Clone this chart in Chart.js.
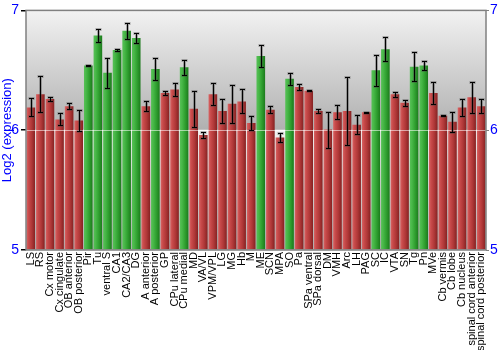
<!DOCTYPE html>
<html><head><meta charset="utf-8">
<script src="https://cdn.jsdelivr.net/npm/chart.js@4/dist/chart.umd.min.js"></script>
<style>html,body{margin:0;padding:0;background:#fff}#wrap{width:500px;height:350px}</style>
</head><body><div id="wrap"><canvas id="c" width="500" height="350"></canvas></div>
<script>
const categories = ["LS","RS","Cx motor","Cx cingulate","OB anterior","OB posterior","Pir","Tu","ventral S","CA1","CA2/CA3","DG","A anterior","A posterior","GP","CPu lateral","CPu medial","MD","VA/VL","VPM/VPL","LG","MG","Hb","M","ME","SCN","MPA","SO","Pa","SPa ventral","SPa dorsal","DM","VMH","Arc","LH","PAG","SC","IC","VTA","SN","Tg","Pn","MVe","Cb vermis","Cb lobe","Cb nucleus","spinal cord anterior","spinal cord posterior"];
const values = [6.19,6.30,6.26,6.09,6.20,6.08,6.54,6.79,6.48,6.67,6.83,6.77,6.20,6.51,6.31,6.34,6.525,6.18,5.96,6.30,6.16,6.22,6.24,6.06,6.62,6.17,5.94,6.43,6.36,6.33,6.16,6.005,6.15,6.16,6.045,6.15,6.50,6.675,6.30,6.23,6.53,6.54,6.31,6.12,6.07,6.19,6.275,6.20];
const errors = [0.075,0.15,0.015,0.05,0.025,0.09,0.005,0.055,0.125,0.005,0.065,0.045,0.04,0.095,0.02,0.055,0.065,0.15,0.025,0.09,0.10,0.16,0.10,0.06,0.09,0.03,0.04,0.05,0.025,0.005,0.02,0.15,0.06,0.28,0.08,0.005,0.13,0.10,0.02,0.025,0.12,0.04,0.09,0.005,0.085,0.07,0.13,0.06];
const highlighted = ["Pir","Tu","ventral S","CA1","CA2/CA3","DG","A posterior","CPu medial","ME","SO","SC","IC","Tg","Pn"];
const yTicks = [5,6,7];
const yTitle = "Log2 (expression)";

const FONT = "'Liberation Sans', Arial, sans-serif";
function barGradient(ctx){
  const green = highlighted.includes(categories[ctx.dataIndex]);
  const flat = green ? '#38a838' : '#b83a3a';
  const chart = ctx.chart; const xs = chart.scales && chart.scales.x;
  if(!xs || ctx.type !== 'data') return flat;
  const cx = xs.getPixelForValue(ctx.dataIndex);
  const w = xs.width / categories.length * 0.9;
  if(!Number.isFinite(cx) || !Number.isFinite(w) || w <= 0) return flat;
  const g = chart.ctx.createLinearGradient(cx - w/2, 0, cx + w/2, 0);
  if(green){
    g.addColorStop(0,'#58c058'); g.addColorStop(0.25,'#48b848'); g.addColorStop(0.6,'#30a030'); g.addColorStop(1,'#1c7a1c');
  } else {
    g.addColorStop(0,'#d86464'); g.addColorStop(0.25,'#c84a4a'); g.addColorStop(0.6,'#b03838'); g.addColorStop(1,'#852222');
  }
  return g;
}

const decor = {
  id:'decor',
  beforeDatasetsDraw(chart){
    const {ctx, chartArea:a, scales:{y}} = chart;
    ctx.save();
    for(let i=0;i<yTicks.length-1;i++){
      const lo = yTicks[i], hi = yTicks[i+1];
      const yt = y.getPixelForValue(hi), yb = y.getPixelForValue(lo);
      const g = ctx.createLinearGradient(0, yt, 0, yb);
      g.addColorStop(0,'#f2f2f2'); g.addColorStop(1,'#b0b0b0');
      ctx.fillStyle = g; ctx.fillRect(a.left, yt, a.right-a.left, yb-yt);
    }
    const y6 = Math.round(y.getPixelForValue(6))+0.5;
    ctx.strokeStyle='rgba(255,255,255,0.9)'; ctx.lineWidth=1.5;
    ctx.beginPath(); ctx.moveTo(a.left,y6); ctx.lineTo(a.right,y6); ctx.stroke();
    ctx.restore();
  },
  afterDatasetsDraw(chart){
    const {ctx, chartArea:a, scales:{x,y}} = chart;
    ctx.save();
    const y6 = Math.round(y.getPixelForValue(6))+0.5;
    ctx.strokeStyle='rgba(255,255,255,0.55)'; ctx.lineWidth=1;
    ctx.beginPath(); ctx.moveTo(a.left,y6); ctx.lineTo(a.right,y6); ctx.stroke();
    values.forEach((v,i)=>{
      const cx = Math.round(x.getPixelForValue(i));
      const yt = Math.round(y.getPixelForValue(v+errors[i]))+0.5;
      const yb = Math.round(y.getPixelForValue(v-errors[i]))+0.5;
      ctx.strokeStyle='rgba(70,70,70,0.4)'; ctx.lineWidth=3;
      ctx.beginPath(); ctx.moveTo(cx+0.5,yt); ctx.lineTo(cx+0.5,yb);
      ctx.moveTo(cx-2.5,yt); ctx.lineTo(cx+3.5,yt); ctx.moveTo(cx-2.5,yb); ctx.lineTo(cx+3.5,yb); ctx.stroke();
      ctx.strokeStyle='#000'; ctx.lineWidth=1;
      ctx.beginPath(); ctx.moveTo(cx+0.5,yt); ctx.lineTo(cx+0.5,yb);
      ctx.moveTo(cx-2,yt); ctx.lineTo(cx+3,yt);
      ctx.moveTo(cx-2,yb); ctx.lineTo(cx+3,yb); ctx.stroke();
    });
    ctx.strokeStyle='#808080'; ctx.lineWidth=1.5;
    ctx.strokeRect(a.left, a.top, a.right-a.left, a.bottom-a.top);
    ctx.restore();
  }
};

new Chart(document.getElementById('c'), {
  type:'bar',
  data:{ labels: categories, datasets:[{ data: values, backgroundColor: barGradient, borderWidth:0, categoryPercentage:1, barPercentage:0.9, base:5 }]},
  plugins:[decor],
  options:{
    responsive:false, animation:false,
    layout:{padding:{top:9,right:0,left:0,bottom:0}},
    plugins:{legend:{display:false}, tooltip:{enabled:false}},
    scales:{
      x:{ grid:{display:false, drawTicks:false}, border:{display:false},
          ticks:{ autoSkip:false, maxRotation:90, minRotation:90, color:'#000', padding:2, font:{family:FONT,size:11}},
          afterFit(s){ s.height = 100; } },
      y:{ min:5, max:7, position:'left', border:{display:false},
          grid:{ drawOnChartArea:false, tickColor:'#000', tickLength:5, lineWidth:1.5 },
          ticks:{ stepSize:1, color:'#0000ff', padding:2, font:{family:FONT,size:14}},
          title:{ display:true, text:yTitle, color:'#0000ff', padding:0, font:{family:FONT,size:13}},
          afterFit(s){ s.width = 26; } },
      y2:{ min:5, max:7, position:'right', border:{display:false},
          grid:{ drawOnChartArea:false, tickColor:'#808080', tickLength:3 },
          ticks:{ stepSize:1, color:'#0000ff', padding:1, font:{family:FONT,size:14}},
          afterFit(s){ s.width = 14; } }
    }
  }
});
</script></body></html>
